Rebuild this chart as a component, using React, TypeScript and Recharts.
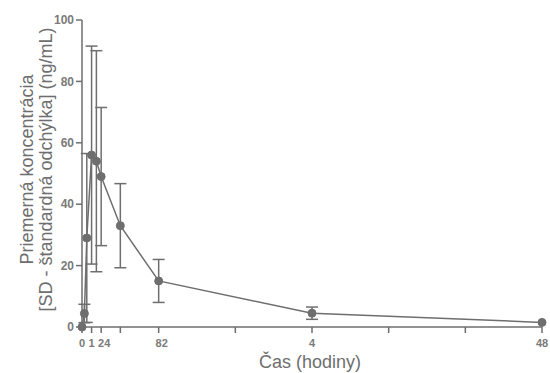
import React from 'react';
import { LineChart, Line, XAxis, YAxis, ErrorBar } from 'recharts';

// hodiny po podaní
const hours = [0, 0.25, 0.5, 1, 1.5, 2, 4, 8, 24, 48];
// priemerná koncentrácia (ng/mL)
const means = [0, 4.4, 29, 56, 54, 49, 33, 15, 4.5, 1.5];
// štandardná odchýlka
const sds = [0, 3, 27.5, 35.5, 36, 22.5, 13.7, 7, 2, 0];

const xTicks = [0, 1, 2, 4, 8, 16, 24, 32, 40, 48];
const xTickLabels: Record<number, string> = { 0: '0', 1: '1', 2: '24', 8: '82', 24: '4', 48: '48' };
const yTicks = [0, 20, 40, 60, 80, 100];

const data = hours.map((h, i) => ({ h, mean: means[i], sd: sds[i] }));

const GRAY = '#6e6e6e';
const FONT = '"Liberation Sans", Arial, sans-serif';

const XTick = ({ x, y, payload }: any) => {
  const txt = xTickLabels[payload.value];
  if (!txt) return null;
  // labels with two digits sit a little right of their tick in the original
  const shift = txt.length > 1 && payload.value < 48 ? 3 : 0;
  return (
    <text x={x + shift} y={y + 12} textAnchor="middle" fontSize={11} fontWeight="bold" fill="#7a7a7a" fontFamily={FONT}>
      {txt}
    </text>
  );
};

const YTitle = ({ viewBox }: any) => {
  const cy = viewBox.y + viewBox.height / 2 - 4;
  return (
    <text transform={`translate(0, ${cy}) rotate(-90)`} textAnchor="middle" fontSize={18} fill={GRAY} fontFamily={FONT}>
      <tspan x={0} y={33}>Priemerná koncentrácia</tspan>
      <tspan x={0} y={52}>[SD - štandardná odchýlka] (ng/mL)</tspan>
    </text>
  );
};

export default function App() {
  return (
    <div style={{ position: 'absolute', left: 0, top: 0, background: '#fff' }}>
      <LineChart width={550} height={373} data={data} margin={{ top: 20, right: 8, left: 0, bottom: 0 }}>
        <XAxis
          dataKey="h"
          type="number"
          domain={[0, 48]}
          ticks={xTicks}
          interval={0}
          height={46}
          stroke={GRAY}
          strokeWidth={1.5}
          tickSize={6}
          tick={<XTick />}
          label={{ value: 'Čas (hodiny)', position: 'insideBottom', offset: 5, dx: -2, fontSize: 18, fill: GRAY, fontFamily: FONT }}
        />
        <YAxis
          type="number"
          domain={[0, 100]}
          ticks={yTicks}
          width={82}
          stroke={GRAY}
          strokeWidth={1.5}
          tickSize={6}
          tick={{ fontSize: 12, fontWeight: 'bold', fill: '#7a7a7a', fontFamily: FONT }}
          label={<YTitle />}
        />
        <Line
          dataKey="mean"
          type="linear"
          stroke={GRAY}
          strokeWidth={1.5}
          dot={{ r: 4, fill: GRAY, stroke: GRAY, strokeWidth: 1 }}
          isAnimationActive={false}
        >
          <ErrorBar dataKey="sd" direction="y" width={6} stroke={GRAY} strokeWidth={1.5} />
        </Line>
      </LineChart>
    </div>
  );
}
